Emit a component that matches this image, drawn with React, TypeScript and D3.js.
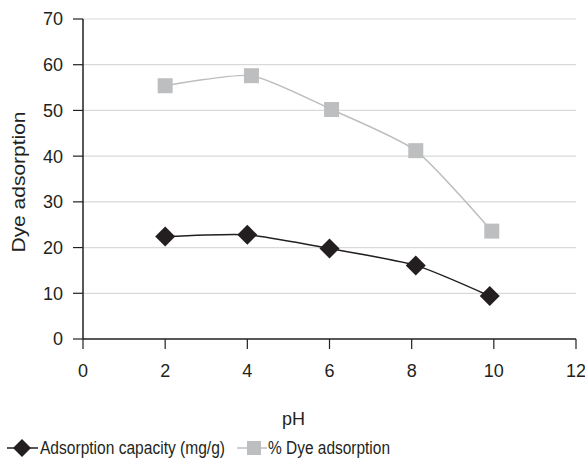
import React from "react";
import * as d3 from "d3";

const capacityPH = [2, 4, 6, 8.1, 9.9];
const capacityValues = [22.4, 22.8, 19.8, 16.1, 9.4];
const percentPH = [2, 4.1, 6.05, 8.1, 9.95];
const percentValues = [55.4, 57.6, 50.2, 41.2, 23.6];
const xTicks = [0, 2, 4, 6, 8, 10, 12];
const yTicks = [0, 10, 20, 30, 40, 50, 60, 70];
const seriesNames = ["Adsorption capacity (mg/g)", "% Dye adsorption"];

const W = 585;
const H = 459;
const left = 83;
const right = 576;
const top = 19;
const bottom = 339;
const font = "'Liberation Sans', Arial, sans-serif";
const dark = "#231f20";
const gray = "#bcbec0";

export default function App() {
  const x = d3.scaleLinear().domain([0, 12]).range([left, right]);
  const y = d3.scaleLinear().domain([0, 70]).range([bottom, top]);
  const line = d3
    .line<[number, number]>()
    .x((d) => x(d[0]))
    .y((d) => y(d[1]))
    .curve(d3.curveCardinal.tension(0.4));
  const cap: [number, number][] = capacityPH.map((p, i) => [p, capacityValues[i]]);
  const pct: [number, number][] = percentPH.map((p, i) => [p, percentValues[i]]);
  const diamond = (cx: number, cy: number, r: number) =>
    `M${cx},${cy - r}L${cx + r},${cy}L${cx},${cy + r}L${cx - r},${cy}Z`;

  return (
    <svg
      width={W}
      height={H}
      style={{ position: "absolute", left: 0, top: 0, background: "#fff" }}
      fontFamily={font}
    >
      {yTicks.map((t) => (
        <g key={t}>
          {t > 0 && (
            <line x1={left} x2={right} y1={y(t)} y2={y(t)} stroke="#d9d9d9" strokeWidth={1.2} />
          )}
          <line x1={left - 10} x2={left} y1={y(t)} y2={y(t)} stroke={dark} strokeWidth={1.2} />
          <text x={63} y={y(t)} dy="0.36em" textAnchor="end" fontSize={18} fill={dark}>
            {t}
          </text>
        </g>
      ))}
      {xTicks.map((t) => (
        <g key={t}>
          <line x1={x(t)} x2={x(t)} y1={bottom} y2={bottom + 10} stroke={dark} strokeWidth={1.2} />
          <text x={x(t)} y={377} textAnchor="middle" fontSize={18} fill={dark}>
            {t}
          </text>
        </g>
      ))}
      <line x1={left} x2={left} y1={top} y2={bottom} stroke={dark} strokeWidth={1.5} />
      <line x1={left} x2={right} y1={bottom} y2={bottom} stroke={dark} strokeWidth={1.5} />

      <path d={line(pct) || ""} fill="none" stroke={gray} strokeWidth={1.5} />
      {pct.map((d, i) => (
        <rect key={i} x={x(d[0]) - 7.5} y={y(d[1]) - 7.5} width={15} height={15} fill={gray} />
      ))}
      <path d={line(cap) || ""} fill="none" stroke={dark} strokeWidth={1.5} />
      {cap.map((d, i) => (
        <path key={i} d={diamond(x(d[0]), y(d[1]), 10)} fill={dark} />
      ))}

      <text x={293.5} y={425} textAnchor="middle" fontSize={18} fill={dark}>
        pH
      </text>
      <text
        transform={`translate(25,182) rotate(-90)`}
        textAnchor="middle"
        fontSize={18}
        fill={dark}
        textLength={141}
        lengthAdjust="spacingAndGlyphs"
      >
        Dye adsorption
      </text>

      <line x1={7} x2={38} y1={448} y2={448} stroke={dark} strokeWidth={1.5} />
      <path d={diamond(22, 448, 9)} fill={dark} />
      <text x={40} y={454} fontSize={17.5} fill={dark} textLength={185} lengthAdjust="spacingAndGlyphs">
        {seriesNames[0]}
      </text>
      <line x1={237} x2={267} y1={448} y2={448} stroke={gray} strokeWidth={1.5} />
      <rect x={247} y={441} width={14} height={14} fill={gray} />
      <text x={268} y={454} fontSize={17.5} fill={dark} textLength={122} lengthAdjust="spacingAndGlyphs">
        {seriesNames[1]}
      </text>
    </svg>
  );
}
